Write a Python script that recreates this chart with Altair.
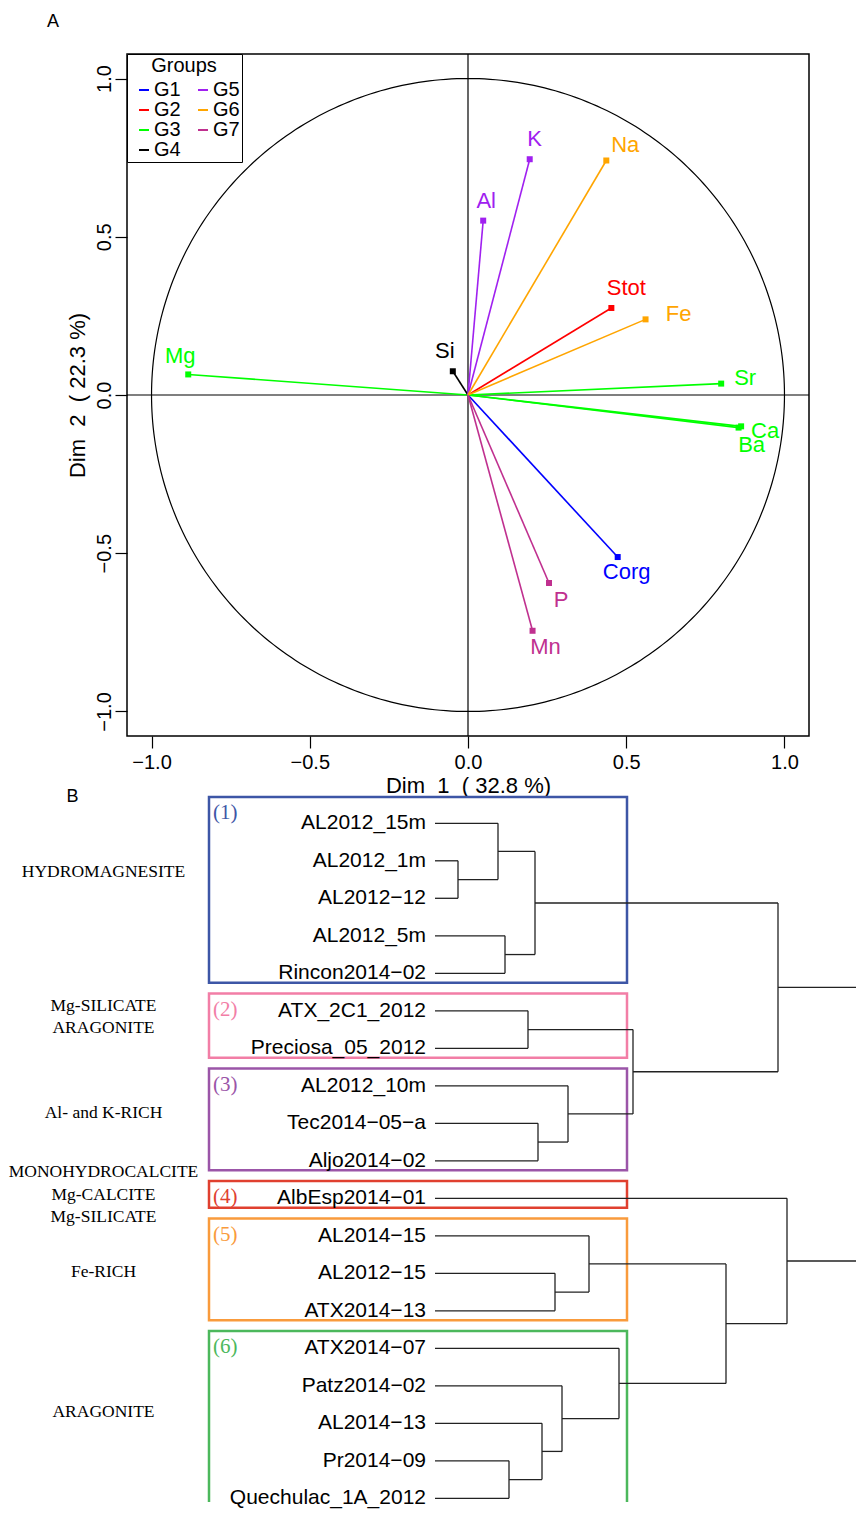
import altair as alt
import numpy as np
import pandas as pd

# ---------------- Panel A data (variables factor map) ----------------
var_names = ["Corg", "Stot", "Mg", "Sr", "Ca", "Ba", "Si", "K", "Al", "Na", "Fe", "P", "Mn"]
var_group = ["G1", "G2", "G3", "G3", "G3", "G3", "G4", "G5", "G5", "G6", "G6", "G7", "G7"]
dim1 = [0.473, 0.453, -0.884, 0.800, 0.863, 0.855, -0.048, 0.195, 0.048, 0.437, 0.561, 0.256, 0.204]
dim2 = [-0.512, 0.275, 0.065, 0.036, -0.099, -0.103, 0.075, 0.745, 0.551, 0.741, 0.239, -0.594, -0.745]
group_names = ["G1", "G2", "G3", "G4", "G5", "G6", "G7"]
group_colors = ["#0000FF", "#FF0000", "#00FF00", "#000000", "#A020F0", "#FFA500", "#C0308F"]
axis_ticks = [-1.0, -0.5, 0.0, 0.5, 1.0]
dim1_title = "Dim\u00a0\u00a01\u00a0\u00a0( 32.8 %)"
dim2_title = "Dim\u00a0\u00a02\u00a0\u00a0( 22.3 %)"

# label placement offsets (pixels, layout only)
label_dx = [9, 15, -8, 24, 24, 13, -8, 5, 3, 19, 33, 12, 13]
label_dy = [15, -20, -18, -6, 5, 17, -20, -20, -20, -15, -5, 17, 16]

# ---------------- Panel B data (dendrogram) ----------------
leaf_labels = ["AL2012_15m", "AL2012_1m", "AL2012\u221212", "AL2012_5m", "Rincon2014\u221202",
               "ATX_2C1_2012", "Preciosa_05_2012", "AL2012_10m", "Tec2014\u221205\u2212a",
               "Aljo2014\u221202", "AlbEsp2014\u221201", "AL2014\u221215", "AL2012\u221215",
               "ATX2014\u221213", "ATX2014\u221207", "Patz2014\u221202", "AL2014\u221213",
               "Pr2014\u221209", "Quechulac_1A_2012"]
merge_a = ["L1", "L0", "L3", "N1", "L5", "L8", "L7", "N4", "N3",
           "L12", "L11", "L17", "L16", "L15", "L14", "N10", "L10", "N8"]
merge_b = ["L2", "N0", "L4", "N2", "L6", "L9", "N5", "N6", "N7",
           "L13", "N9", "L18", "N11", "N12", "N13", "N14", "N15", "N16"]
merge_h = [0.23, 0.63, 0.70, 1.00, 0.93, 1.03, 1.33, 1.98, 3.43,
           1.20, 1.54, 0.74, 1.07, 1.27, 1.84, 2.91, 3.52, 4.90]

cluster_tags = ["(1)", "(2)", "(3)", "(4)", "(5)", "(6)"]
cluster_first = [0, 5, 7, 10, 11, 14]
cluster_last = [4, 6, 9, 10, 13, 18]
cluster_colors = ["#3D56A6", "#F27EA6", "#9B55A8", "#E0402F", "#F99B3C", "#4CB85C"]

mineral_lines = ["HYDROMAGNESITE", "Mg-SILICATE", "ARAGONITE", "Al- and K-RICH",
                 "MONOHYDROCALCITE", "Mg-CALCITE", "Mg-SILICATE", "Fe-RICH", "ARAGONITE"]
mineral_rows = [1.29, 4.87, 5.47, 7.72, 9.29, 9.91, 10.51, 11.96, 15.71]

SANS = "Liberation Sans"
SERIF = "Liberation Serif"

# ======================= Panel A =======================
LIM = 1.0775
A_SIZE = 682
PX = A_SIZE / (2 * LIM)

sx = alt.Scale(domain=[-LIM, LIM], nice=False, zero=False)
sy = alt.Scale(domain=[-LIM, LIM], nice=False, zero=False)
x_axis = alt.Axis(values=axis_ticks, format=".1f", title=dim1_title, tickSize=12,
                  tickColor="black", tickWidth=1.2, domain=False, grid=False,
                  labelFont=SANS, labelFontSize=20, labelColor="black", labelPadding=4,
                  labelFlush=False, labelOverlap=False, titleFont=SANS, titleFontSize=22,
                  titleFontWeight="normal", titleColor="black", titlePadding=3)
y_axis = alt.Axis(values=axis_ticks, format=".1f", title=dim2_title, tickSize=12,
                  tickColor="black", tickWidth=1.2, domain=False, grid=False,
                  labelFont=SANS, labelFontSize=20, labelColor="black", labelPadding=1,
                  labelAngle=-90, labelAlign="center", labelBaseline="bottom",
                  labelFlush=False, labelOverlap=False, titleFont=SANS, titleFontSize=22,
                  titleFontWeight="normal", titleColor="black", titlePadding=5)


def X(f):
    return alt.X(f, type="quantitative", scale=sx, axis=x_axis)


def Y(f):
    return alt.Y(f, type="quantitative", scale=sy, axis=y_axis)


legend = alt.Legend(title="Groups", orient="top-left", offset=0, columns=2,
                    symbolType="stroke", symbolSize=100, symbolStrokeWidth=2,
                    labelFont=SANS, labelFontSize=20, labelColor="black", labelOffset=0,
                    titleFont=SANS, titleFontSize=20, titleFontWeight="normal",
                    titleColor="black", titleAnchor="middle", titleAlign="center",
                    titlePadding=4, padding=2, rowPadding=0, columnPadding=7,
                    symbolOffset=5, strokeColor="black", fillColor="white")
color = alt.Color("group:N", scale=alt.Scale(domain=group_names, range=group_colors),
                  legend=legend)

vec = pd.DataFrame({"name": var_names, "group": var_group, "x": dim1, "y": dim2})
vec["x0"] = 0.0
vec["y0"] = 0.0
vec["lx"] = [a + d / PX for a, d in zip(dim1, label_dx)]
vec["ly"] = [b - d / PX for b, d in zip(dim2, label_dy)]

t = np.linspace(0, 2 * np.pi, 361)
circ = pd.DataFrame({"x": np.cos(t), "y": np.sin(t), "o": np.arange(len(t))})

circle = alt.Chart(circ).mark_line(color="black", strokeWidth=1.2).encode(
    x=X("x"), y=Y("y"), order="o:Q")
hline = alt.Chart(pd.DataFrame({"y": [0.0]})).mark_rule(color="black", strokeWidth=1.2).encode(y=Y("y"))
vline = alt.Chart(pd.DataFrame({"x": [0.0]})).mark_rule(color="black", strokeWidth=1.2).encode(x=X("x"))
arrows = alt.Chart(vec).mark_rule(strokeWidth=1.6).encode(
    x=X("x"), y=Y("y"), x2="x0", y2="y0", color=color)
tips = alt.Chart(vec).mark_square(size=36, opacity=1).encode(x=X("x"), y=Y("y"), color=color)
labels = alt.Chart(vec).mark_text(font=SANS, fontSize=22).encode(
    x=X("lx"), y=Y("ly"), text="name:N", color=color)
tagA = alt.Chart(pd.DataFrame({"x": [-1.311], "y": [1.18], "t": ["A"]})).mark_text(
    font=SANS, fontSize=18, color="black").encode(x=X("x"), y=Y("y"), text="t:N")

panelA = alt.layer(circle, hline, vline, arrows, tips, labels, tagA).properties(
    width=A_SIZE, height=A_SIZE,
    view=alt.ViewBackground(stroke="black", strokeWidth=1.5))

# ======================= Panel B =======================
B_W = 729
B_H = 712
bx = alt.Scale(domain=[-3.08, 4.21], nice=False, zero=False)
by = alt.Scale(domain=[-0.888, 18.099], nice=False, zero=False, reverse=True)


def BX(f):
    return alt.X(f, type="quantitative", scale=bx, axis=None)


def BY(f):
    return alt.Y(f, type="quantitative", scale=by, axis=None)


pos = {f"L{i}": (float(i), 0.0) for i in range(len(leaf_labels))}
segs = []
for j, (a, b, h) in enumerate(zip(merge_a, merge_b, merge_h)):
    ya, ha = pos[a]
    yb, hb = pos[b]
    segs.append({"x": ha, "x2": h, "y": ya, "y2": ya})
    segs.append({"x": hb, "x2": h, "y": yb, "y2": yb})
    segs.append({"x": h, "x2": h, "y": ya, "y2": yb})
    pos[f"N{j}"] = ((ya + yb) / 2.0, h)
seg_df = pd.DataFrame(segs)

BOX_X0, BOX_X1 = -2.26, 1.92
boxes = []
for k, (tag, f, l, c) in enumerate(zip(cluster_tags, cluster_first, cluster_last, cluster_colors)):
    top = f - (0.70 if k == 0 else 0.46)
    bottom = l + (1.5 if k == len(cluster_tags) - 1 else 0.25)
    boxes.append({"tag": tag, "c": c, "x": BOX_X0, "x2": BOX_X1, "y": top, "y2": bottom,
                  "tx": BOX_X0 + 0.04, "ty": top + 0.43})
box_df = pd.DataFrame(boxes)

leaf_df = pd.DataFrame({"label": leaf_labels, "y": np.arange(len(leaf_labels), dtype=float), "x": 0.0})
min_df = pd.DataFrame({"t": mineral_lines, "y": mineral_rows, "x": -3.315})

dend = alt.Chart(seg_df).mark_rule(color="#222222", strokeWidth=1.3, clip=True).encode(
    x=BX("x"), x2="x2", y=BY("y"), y2="y2")
rects = alt.Chart(box_df).mark_rect(fillOpacity=0, strokeWidth=2.5, clip=True).encode(
    x=BX("x"), x2="x2", y=BY("y"), y2="y2", stroke=alt.Stroke("c:N", scale=None))
tags = alt.Chart(box_df).mark_text(font=SERIF, fontSize=21, align="left").encode(
    x=BX("tx"), y=BY("ty"), text="tag:N", color=alt.Color("c:N", scale=None))
leaves = alt.Chart(leaf_df).mark_text(font=SANS, fontSize=21, align="right", dx=-9,
                                      color="black").encode(x=BX("x"), y=BY("y"), text="label:N")
minerals = alt.Chart(min_df).mark_text(font=SERIF, fontSize=17.5, align="center",
                                       color="black").encode(x=BX("x"), y=BY("y"), text="t:N")
tagB = alt.Chart(pd.DataFrame({"x": [-3.624], "y": [-0.70], "t": ["B"]})).mark_text(
    font=SANS, fontSize=18, color="black").encode(x=BX("x"), y=BY("y"), text="t:N")

panelB = alt.layer(rects, dend, tags, leaves, minerals, tagB).properties(width=B_W, height=B_H)

chart = alt.vconcat(panelA, panelB, spacing=54, bounds="flush").properties(
    padding={"left": 0, "top": 3, "right": 0, "bottom": 0}
).configure_view(stroke=None)

chart.save("out.html", embed_options={"renderer": "svg", "actions": False})
